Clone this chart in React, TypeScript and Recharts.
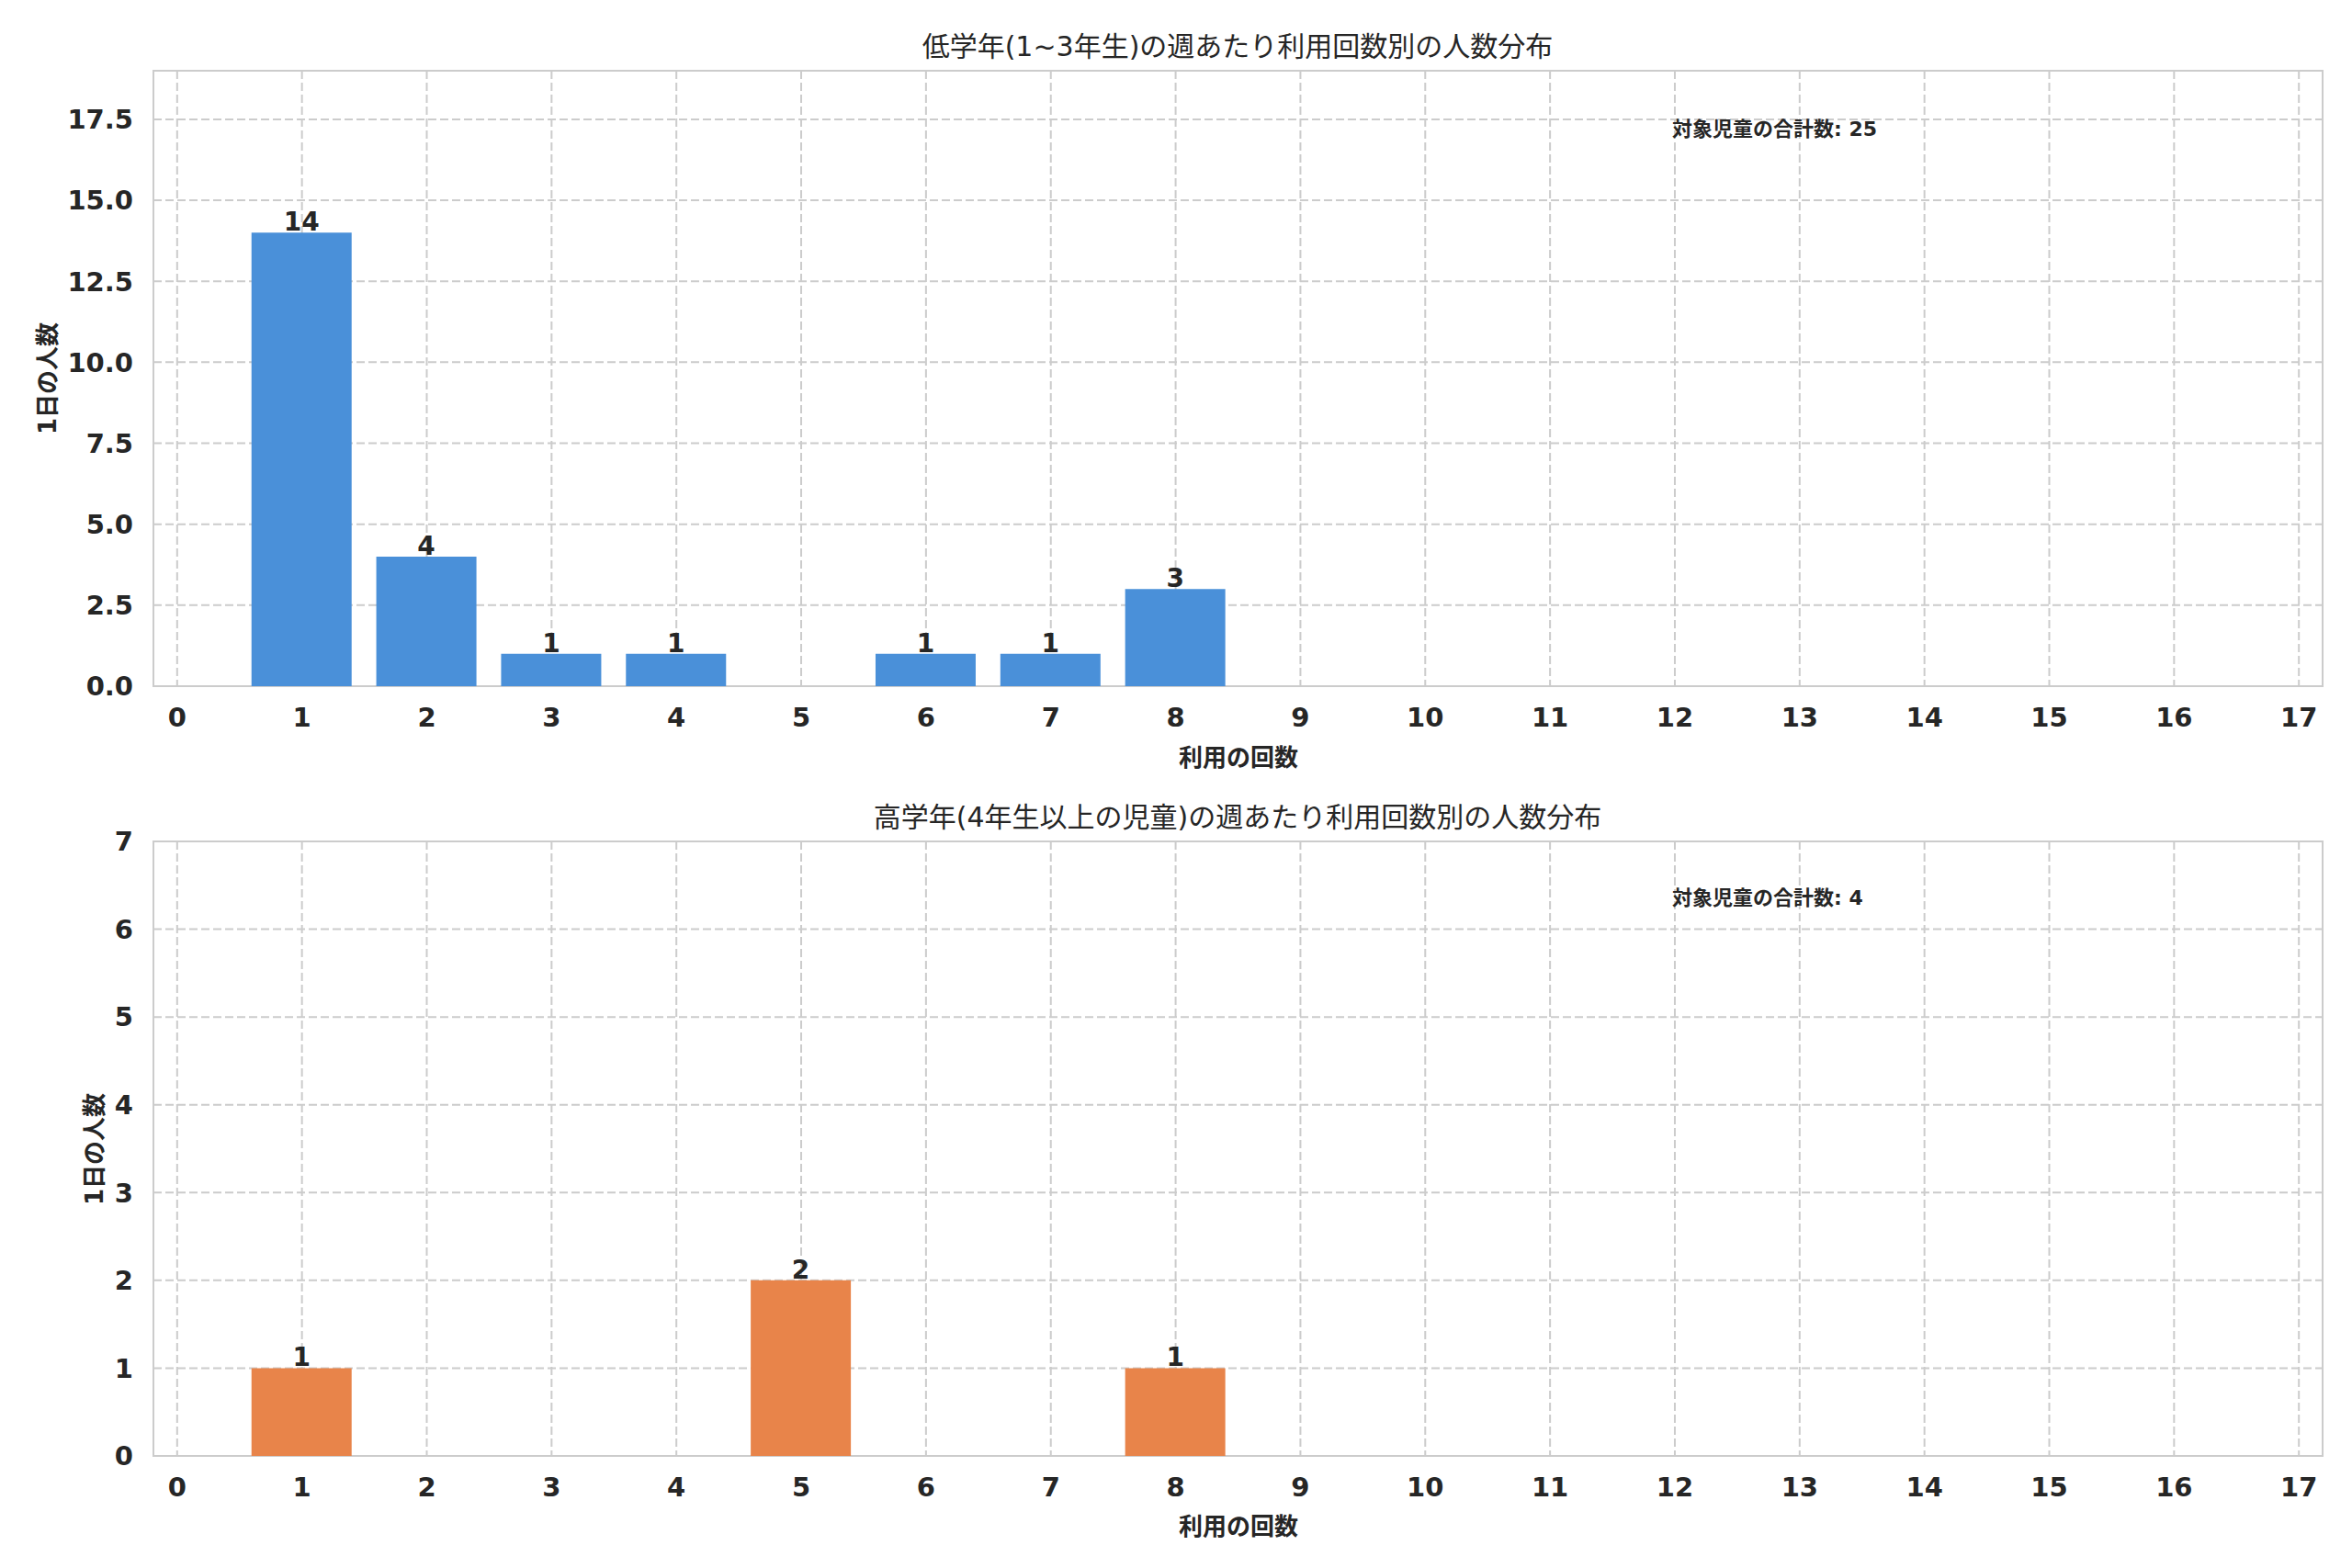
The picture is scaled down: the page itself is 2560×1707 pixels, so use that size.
import React from 'react';
import { BarChart, Bar, XAxis, YAxis, CartesianGrid, LabelList, ReferenceArea } from 'recharts';

const FONT = '"DejaVu Sans", "Noto Sans CJK JP", sans-serif';
const TEXT = '#262626';
const GRID = '#cccccc';

// 回数ごとの人数
const usageCounts = [1, 2, 3, 4, 5, 6, 7, 8];
const lowerStudents = [14, 4, 1, 1, 0, 1, 1, 3];
const upperStudents = [1, 0, 0, 0, 2, 0, 0, 1];

const xTicks = [0, 1, 2, 3, 4, 5, 6, 7, 8, 9, 10, 11, 12, 13, 14, 15, 16, 17];
const lowerYTicks = [0, 2.5, 5, 7.5, 10, 12.5, 15, 17.5];
const upperYTicks = [0, 1, 2, 3, 4, 5, 6, 7];

const lowerData = usageCounts.map((c, i) => ({ count: c, students: lowerStudents[i] }));
const upperData = usageCounts.map((c, i) => ({ count: c, students: upperStudents[i] }));

const X_MIN = -0.19;
const X_MAX = 17.19;
const WIDTH = 2560;

const ValueLabel = (props: any) => {
  const { x, y, width, value } = props;
  if (!value) return null;
  return (
    <text
      x={x + width / 2}
      y={y - 2}
      textAnchor="middle"
      fontFamily={FONT}
      fontWeight="bold"
      fontSize={28}
      fill={TEXT}
    >
      {value}
    </text>
  );
};

type PanelProps = {
  top: number;
  height: number;
  plotTop: number;
  plotBottom: number;
  data: { count: number; students: number }[];
  color: string;
  yTicks: number[];
  yMax: number;
  decimals: number;
  title: string;
  titleY: number;
  xLabel: string;
  xLabelY: number;
  yLabel: string;
  yLabelX: number;
  note: string;
  noteY: number;
};

const Panel = (p: PanelProps) => {
  const plotMid = (p.plotTop + p.plotBottom) / 2;
  return (
    <div style={{ position: 'absolute', left: 0, top: p.top, width: WIDTH, height: p.height }}>
      <BarChart
        width={WIDTH}
        height={p.height}
        data={p.data}
        margin={{ top: p.plotTop, right: 32, bottom: 0, left: 0 }}
      >
        <CartesianGrid stroke={GRID} strokeWidth={2} strokeDasharray="9 4" />
        <XAxis
          dataKey="count"
          type="number"
          domain={[X_MIN, X_MAX]}
          ticks={xTicks}
          allowDataOverflow
          interval={0}
          height={p.height - p.plotBottom}
          axisLine={false}
          tickLine={false}
          tickSize={0}
          tickMargin={23}
          tick={{ fontFamily: FONT, fontWeight: 'bold', fontSize: 29, fill: TEXT }}
        />
        <YAxis
          type="number"
          domain={[0, p.yMax]}
          ticks={p.yTicks}
          allowDataOverflow
          interval={0}
          width={167}
          axisLine={false}
          tickLine={false}
          tickSize={0}
          tickMargin={22}
          tickFormatter={(v: number) => v.toFixed(p.decimals)}
          tick={{ fontFamily: FONT, fontWeight: 'bold', fontSize: 29, fill: TEXT }}
        />
        <Bar dataKey="students" fill={p.color} barSize={109} isAnimationActive={false}>
          <LabelList dataKey="students" content={ValueLabel} />
        </Bar>
        <ReferenceArea
          x1={X_MIN}
          x2={X_MAX}
          y1={0}
          y2={p.yMax}
          fill="none"
          fillOpacity={0}
          stroke={GRID}
          strokeWidth={2}
          ifOverflow="visible"
        />
      </BarChart>
      <div
        style={{
          position: 'absolute',
          left: WIDTH / 2 + 67,
          top: p.titleY,
          transform: 'translate(-50%, -50%)',
          fontFamily: FONT,
          fontSize: 30,
          color: TEXT,
          whiteSpace: 'nowrap',
        }}
      >
        {p.title}
      </div>
      <div
        style={{
          position: 'absolute',
          left: 1348,
          top: p.xLabelY,
          transform: 'translate(-50%, -50%)',
          fontFamily: FONT,
          fontWeight: 'bold',
          fontSize: 26,
          color: TEXT,
          whiteSpace: 'nowrap',
        }}
      >
        {p.xLabel}
      </div>
      <div
        style={{
          position: 'absolute',
          left: p.yLabelX,
          top: plotMid,
          transform: 'translate(-50%, -50%) rotate(-90deg)',
          fontFamily: FONT,
          fontWeight: 'bold',
          fontSize: 26,
          color: TEXT,
          whiteSpace: 'nowrap',
        }}
      >
        {p.yLabel}
      </div>
      <div
        style={{
          position: 'absolute',
          left: 1820,
          top: p.noteY,
          transform: 'translateY(-50%)',
          fontFamily: FONT,
          fontWeight: 'bold',
          fontSize: 22,
          color: TEXT,
          whiteSpace: 'nowrap',
        }}
      >
        {p.note}
      </div>
    </div>
  );
};

const App = () => {
  return (
    <div style={{ position: 'absolute', left: 0, top: 0, width: WIDTH, height: 1707, background: '#ffffff' }}>
      <Panel
        top={0}
        height={853}
        plotTop={77}
        plotBottom={747}
        data={lowerData}
        color="#4A90D9"
        yTicks={lowerYTicks}
        yMax={19}
        decimals={1}
        title="低学年(1~3年生)の週あたり利用回数別の人数分布"
        titleY={48}
        xLabel="利用の回数"
        xLabelY={822}
        yLabel="1日の人数"
        yLabelX={49}
        note="対象児童の合計数: 25"
        noteY={138}
      />
      <Panel
        top={853}
        height={854}
        plotTop={63}
        plotBottom={732}
        data={upperData}
        color="#E8844A"
        yTicks={upperYTicks}
        yMax={7}
        decimals={0}
        title="高学年(4年生以上の児童)の週あたり利用回数別の人数分布"
        titleY={34}
        xLabel="利用の回数"
        xLabelY={806}
        yLabel="1日の人数"
        yLabelX={100}
        note="対象児童の合計数: 4"
        noteY={122}
      />
    </div>
  );
};

export default App;
